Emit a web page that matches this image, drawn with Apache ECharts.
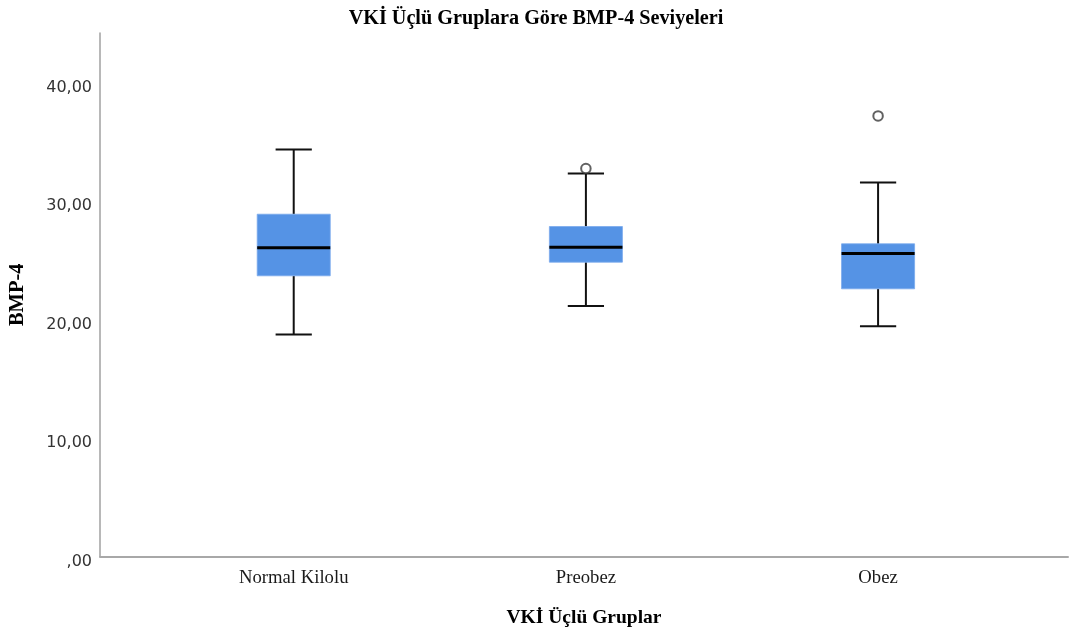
<!DOCTYPE html>
<html>
<head>
<meta charset="utf-8">
<title>BMP-4 Boxplot</title>
<script src="https://cdn.jsdelivr.net/npm/echarts@6/dist/echarts.min.js"></script>
<style>
  html, body { margin: 0; padding: 0; background: #ffffff; }
  #chart { width: 1072px; height: 630px; }
</style>
</head>
<body>
<div id="chart"></div>
<script>
// Group names on the x axis
const categories = ['Normal Kilolu', 'Preobez', 'Obez'];

// Five-number summaries per group (BMP-4)
const whiskerLow  = [18.75, 21.16, 19.43];
const q1          = [23.70, 24.85, 22.60];
const median      = [26.06, 26.12, 25.59];
const q3          = [28.90, 27.86, 26.40];
const whiskerHigh = [34.36, 32.34, 31.58];

// Outliers: [group position, value]
const outliers = [
  [2, 32.76],
  [3, 37.20]
];

// Y-axis tick values
const yTicks = [0, 10, 20, 30, 40];

const serif = '"Liberation Serif", "Times New Roman", serif';
const boxColor = '#5593e5';

const boxData = categories.map((c, i) =>
  [i + 1, whiskerLow[i], q1[i], median[i], q3[i], whiskerHigh[i]]);

function fmtY(v) {
  if (v === 0) return ',00';
  return v.toFixed(2).replace('.', ',');
}

function renderBox(params, api) {
  const x = api.value(0);
  const low = api.coord([x, api.value(1)]);
  const p1 = api.coord([x, api.value(2)]);
  const pm = api.coord([x, api.value(3)]);
  const p3 = api.coord([x, api.value(4)]);
  const high = api.coord([x, api.value(5)]);
  const unit = api.size([1, 0])[0];
  const halfBox = unit * 0.125;
  const halfCap = unit * 0.062;
  const cx = low[0];
  const lineStyle = { stroke: '#111111', lineWidth: 2 };
  return {
    type: 'group',
    children: [
      { type: 'line', shape: { x1: cx, y1: p3[1], x2: cx, y2: high[1] }, style: lineStyle },
      { type: 'line', shape: { x1: cx, y1: p1[1], x2: cx, y2: low[1] }, style: lineStyle },
      { type: 'line', shape: { x1: cx - halfCap, y1: high[1], x2: cx + halfCap, y2: high[1] }, style: lineStyle },
      { type: 'line', shape: { x1: cx - halfCap, y1: low[1], x2: cx + halfCap, y2: low[1] }, style: lineStyle },
      { type: 'rect', shape: { x: cx - halfBox, y: p3[1], width: halfBox * 2, height: p1[1] - p3[1] },
        style: { fill: boxColor, stroke: '#7aaaec', lineWidth: 0.8 } },
      { type: 'line', shape: { x1: cx - halfBox, y1: pm[1], x2: cx + halfBox, y2: pm[1] },
        style: { stroke: '#000000', lineWidth: 3 } }
    ]
  };
}

const chart = echarts.init(document.getElementById('chart'), null, { renderer: 'canvas' });

chart.setOption({
  animation: false,
  backgroundColor: '#ffffff',
  title: {
    text: 'VKİ Üçlü Gruplara Göre BMP-4 Seviyeleri',
    left: 531,
    top: 4,
    textAlign: 'center',
    textStyle: { fontFamily: serif, fontWeight: 'bold', fontSize: 20.2, color: '#000000' }
  },
  grid: { left: 100, right: 4, top: 33, bottom: 73.5, containLabel: false, outerBoundsMode: 'none' },
  xAxis: {
    type: 'value',
    min: 0.337,
    max: 3.65,
    name: 'VKİ Üçlü Gruplar',
    nameLocation: 'middle',
    nameGap: 51,
    nameTextStyle: { fontFamily: serif, fontWeight: 'bold', fontSize: 19.5, color: '#000000' },
    axisLine: { show: true, onZero: false, lineStyle: { color: '#a8a8a8', width: 2 } },
    axisTick: { show: false },
    splitLine: { show: false },
    axisLabel: {
      customValues: [1, 2, 3],
      margin: 12,
      fontFamily: serif,
      fontSize: 18.7,
      color: '#1a1a1a',
      formatter: v => {
        const k = Math.round(v);
        return Math.abs(v - k) < 1e-6 && k >= 1 && k <= categories.length ? categories[k - 1] : '';
      }
    }
  },
  yAxis: {
    type: 'value',
    min: 0,
    max: 44.2,
    interval: 10,
    name: 'BMP-4',
    nameLocation: 'middle',
    nameRotate: 90,
    nameGap: 72,
    nameTextStyle: { fontFamily: serif, fontWeight: 'bold', fontSize: 20.5, color: '#000000' },
    axisLine: { show: true, lineStyle: { color: '#a0a0a0', width: 1.5 } },
    axisTick: { show: false },
    splitLine: { show: false },
    axisLabel: {
      customValues: yTicks,
      margin: 8,
      verticalAlign: 'top',
      lineHeight: 10,
      fontFamily: '"DejaVu Sans", sans-serif',
      fontSize: 16,
      color: '#333333',
      formatter: v => (yTicks.indexOf(v) >= 0 ? fmtY(v) : '')
    }
  },
  series: [
    {
      type: 'custom',
      renderItem: renderBox,
      encode: { x: 0, y: [1, 2, 3, 4, 5] },
      data: boxData,
      z: 2
    },
    {
      type: 'scatter',
      data: outliers,
      symbol: 'circle',
      symbolSize: 9.5,
      itemStyle: { color: '#ffffff', borderColor: '#3a3a3a', borderWidth: 2 },
      z: 3
    }
  ]
});
</script>
</body>
</html>
